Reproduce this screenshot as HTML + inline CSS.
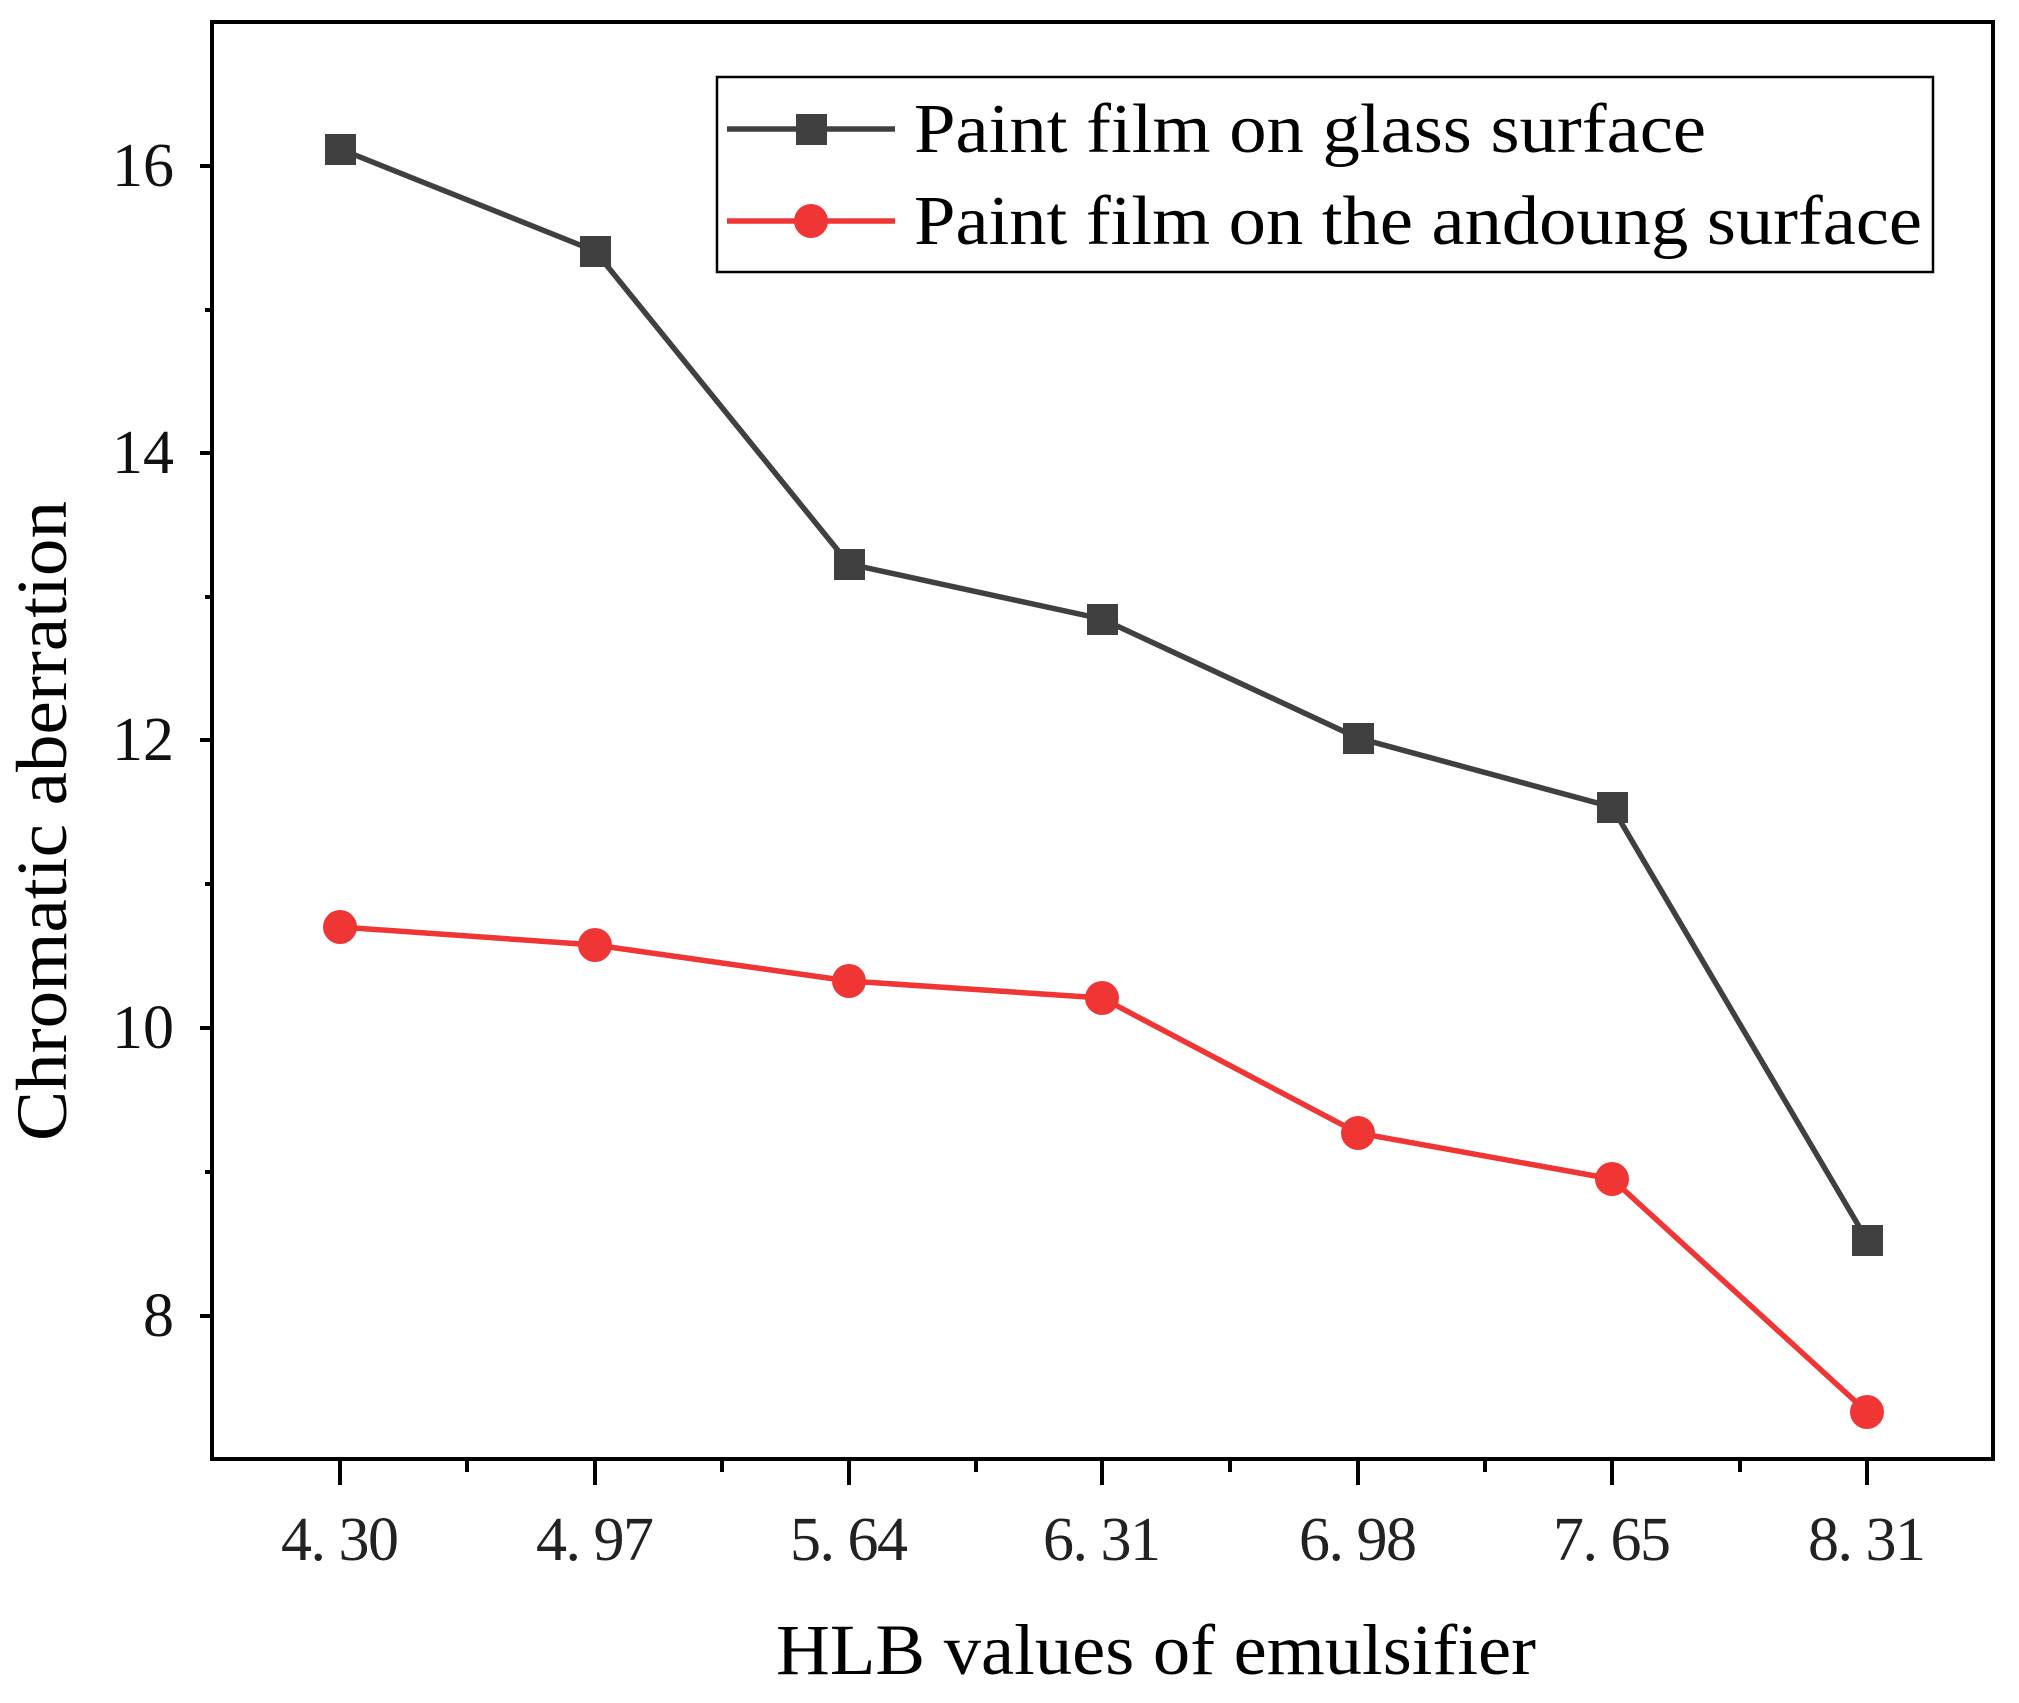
<!DOCTYPE html>
<html><head><style>html,body{margin:0;padding:0;background:#fff}</style></head>
<body>
<svg width="2019" height="1698" viewBox="0 0 2019 1698" xmlns="http://www.w3.org/2000/svg" font-family="'Liberation Serif', serif">
<rect width="2019" height="1698" fill="#fff"/>
<g stroke="#000" stroke-width="4" fill="none">
<rect x="212" y="22" width="1781" height="1437"/>
<path d="M200 166H212M200 453H212M200 740H212M200 1028H212M200 1316H212M205 310H212M205 597H212M205 884H212M205 1172H212"/>
<path d="M340 1459V1485M595 1459V1485M849 1459V1485M1102 1459V1485M1358 1459V1485M1612 1459V1485M1867 1459V1485M467 1459V1472M722 1459V1472M976 1459V1472M1230 1459V1472M1485 1459V1472M1740 1459V1472"/>
</g>
<g font-size="62" fill="#111" text-anchor="end">
<text x="174" y="186">16</text><text x="174" y="473">14</text><text x="174" y="760">12</text><text x="174" y="1048">10</text><text x="174" y="1336">8</text>
</g>
<g font-size="62" fill="#222" text-anchor="middle">
<text x="340" y="1560" textLength="118">4. 30</text>
<text x="595" y="1560" textLength="118">4. 97</text>
<text x="849" y="1560" textLength="118">5. 64</text>
<text x="1102" y="1560" textLength="118">6. 31</text>
<text x="1358" y="1560" textLength="118">6. 98</text>
<text x="1612" y="1560" textLength="118">7. 65</text>
<text x="1867" y="1560" textLength="118">8. 31</text>
</g>
<text x="1156" y="1674" font-size="72" text-anchor="middle" textLength="760" lengthAdjust="spacingAndGlyphs">HLB values of emulsifier</text>
<text transform="translate(66,821) rotate(-90)" font-size="72" text-anchor="middle" textLength="640" lengthAdjust="spacingAndGlyphs">Chromatic aberration</text>
<polyline fill="none" stroke="#404040" stroke-width="5.5" points="340,149 595,251 849,564 1102,619 1358,738 1612,807 1867,1240"/>
<g fill="#404040">
<rect x="325" y="134" width="31" height="31"/><rect x="580" y="236" width="31" height="31"/><rect x="834" y="549" width="31" height="31"/><rect x="1087" y="604" width="31" height="31"/><rect x="1343" y="723" width="31" height="31"/><rect x="1597" y="792" width="31" height="31"/><rect x="1852" y="1225" width="31" height="31"/>
</g>
<polyline fill="none" stroke="#f03535" stroke-width="5.5" points="340,927 595,945 849,981 1102,998 1358,1133 1612,1179 1867,1412"/>
<g fill="#f03535">
<circle cx="340" cy="927" r="17"/><circle cx="595" cy="945" r="17"/><circle cx="849" cy="981" r="17"/><circle cx="1102" cy="998" r="17"/><circle cx="1358" cy="1133" r="17"/><circle cx="1612" cy="1179" r="17"/><circle cx="1867" cy="1412" r="17"/>
</g>
<rect x="717" y="77" width="1216" height="195" fill="#fff" stroke="#000" stroke-width="2.5"/>
<line x1="727" y1="129" x2="895" y2="129" stroke="#404040" stroke-width="5.5"/>
<rect x="796" y="114" width="31" height="31" fill="#404040"/>
<line x1="727" y1="221" x2="895" y2="221" stroke="#f03535" stroke-width="5.5"/>
<circle cx="811" cy="221" r="17" fill="#f03535"/>
<text x="914" y="152" font-size="70" textLength="792" lengthAdjust="spacingAndGlyphs">Paint film on glass surface</text>
<text x="914" y="244" font-size="70" textLength="1008" lengthAdjust="spacingAndGlyphs">Paint film on the andoung surface</text>
</svg>
</body></html>
